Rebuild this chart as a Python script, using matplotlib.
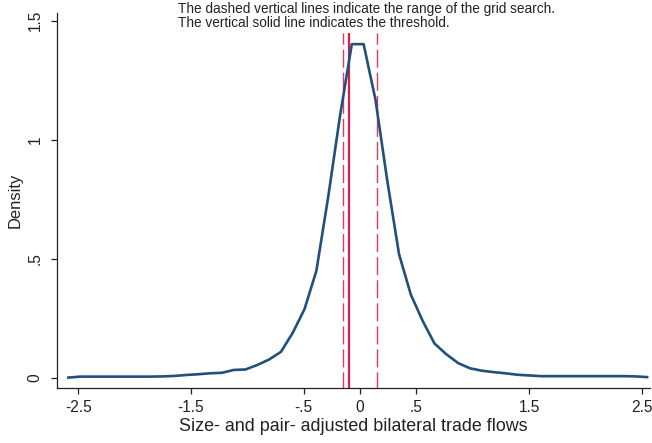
import matplotlib
matplotlib.use("Agg")
import matplotlib.pyplot as plt
import numpy as np

# kernel density evaluated on a 50-point grid
grid_lo, grid_hi, n_grid = -2.588, 2.547, 50
density = [
    0.002, 0.006, 0.006, 0.006, 0.006, 0.006, 0.006, 0.006, 0.007, 0.009,
    0.013, 0.016, 0.020, 0.022, 0.034, 0.036, 0.055, 0.078, 0.110, 0.190,
    0.290, 0.450, 0.760, 1.100, 1.402, 1.402, 1.170, 0.830, 0.520, 0.350,
    0.240, 0.145, 0.100, 0.063, 0.041, 0.031, 0.025, 0.020, 0.014, 0.011,
    0.008, 0.008, 0.008, 0.008, 0.008, 0.008, 0.008, 0.008, 0.007, 0.004,
]

# grid search range and chosen threshold
search_lo, search_hi = -0.15, 0.15
threshold = -0.10

xticks = [-2.5, -1.5, -0.5, 0, 0.5, 1.5, 2.5]
xticklabels = ["-2.5", "-1.5", "-.5", "0", ".5", "1.5", "2.5"]
yticks = [0, 0.5, 1, 1.5]
yticklabels = ["0", ".5", "1", "1.5"]

note_lines = ["The dashed vertical lines indicate the range of the grid search.",
              "The vertical solid line indicates the threshold."]

plt.rcParams["font.family"] = ["Liberation Sans", "DejaVu Sans"]

W, H = 652, 443
fig = plt.figure(figsize=(W / 100, H / 100), dpi=100)
ax = fig.add_axes([57.3 / W, 1 - 388.3 / H, (650 - 57.3) / W, (388.3 - 12.7) / H])

xs = np.linspace(grid_lo, grid_hi, n_grid)
ax.plot(xs, density, color="#22507d", lw=1.9, solid_joinstyle="round", zorder=3)

line_top = 1.448
ax.vlines([search_lo, search_hi], -0.05, line_top, colors="#e03a62", lw=1.0,
          linestyles=(0, (13, 3.6)), zorder=2)
ax.vlines([threshold], -0.05, line_top, colors="#d81e4a", lw=1.6, zorder=2)

ax.set_xlim(-2.686, 2.573)
ax.set_ylim(-0.043, 1.534)

ax.set_xticks(xticks)
ax.set_xticklabels(xticklabels)
ax.set_yticks(yticks)
ax.set_yticklabels(yticklabels, rotation=90, va="center")

for side in ("top", "right"):
    ax.spines[side].set_visible(False)
for side in ("left", "bottom"):
    ax.spines[side].set_linewidth(0.9)
    ax.spines[side].set_color("#222222")

ax.tick_params(direction="out", length=4.5, width=0.9, labelsize=11.2,
               colors="#222222")
ax.tick_params(axis="x", pad=4)
ax.tick_params(axis="y", pad=6)
ax.set_xlabel("Size- and pair- adjusted bilateral trade flows",
              fontsize=12.9, color="#222222", labelpad=2)
ax.set_ylabel("Density", fontsize=11.9, color="#222222", labelpad=4)

for i, line in enumerate(note_lines):
    fig.text(178 / W, 1 - (13.3 + 13.4 * i) / H, line, fontsize=9.8,
             color="#222222", ha="left", va="baseline")

fig.savefig("out.png", dpi=100)
